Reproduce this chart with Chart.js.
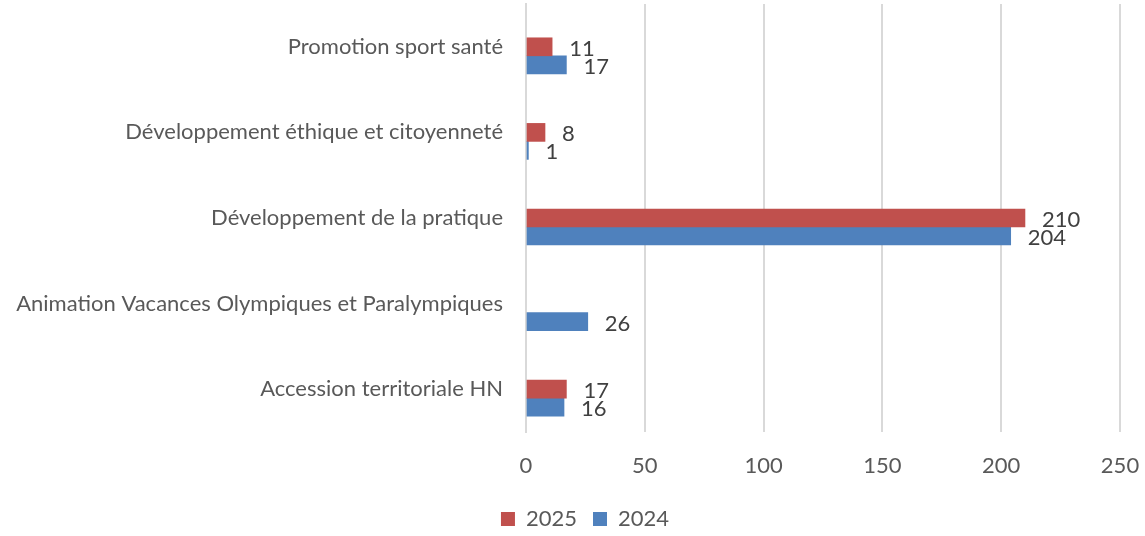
<!DOCTYPE html>
<html>
<head>
<meta charset="utf-8">
<script src="https://cdn.jsdelivr.net/npm/chart.js@4"></script>
<style>
  html, body { margin: 0; padding: 0; background: #fff; }
  #wrap { width: 1145px; height: 536px; }
</style>
</head>
<body>
<div id="wrap"><canvas id="chart" width="1145" height="536"></canvas></div>
<script>
// categories, top to bottom as shown
let categories = [
    'Promotion sport santé',
    'Développement éthique et citoyenneté',
    'Développement de la pratique',
    'Animation Vacances Olympiques et Paralympiques',
    'Accession territoriale HN',
];
let values2025 = [11, 8, 210, null, 17];
let values2024 = [17, 1, 204, 26, 16];
// empty series that still takes a slot in each group (as in the source chart)
let valuesEmpty = [null, null, null, null, null];
let xticks = [0, 50, 100, 150, 200, 250];

let textcolor = '#595959';
let gridcolor = '#d9d9d9';
let fontfamily = 'Lato, "Open Sans", sans-serif';
let fontsize = 22;

// draw value labels to the right of each bar
let valuelabels = {
    id: 'valuelabels',
    afterDatasetsDraw: function(chart) {
        let ctx = chart.ctx;
        ctx.save();
        ctx.font = fontsize + 'px ' + fontfamily;
        ctx.fillStyle = '#404040';
        ctx.textAlign = 'left';
        ctx.textBaseline = 'middle';
        chart.data.datasets.forEach(function(ds, di) {
            if (ds.nolabel) return;
            let meta = chart.getDatasetMeta(di);
            meta.data.forEach(function(bar, i) {
                let v = ds.data[i];
                if (v === null || v === undefined) return;
                ctx.fillText(String(v), bar.x + 17, bar.y + 2);
            });
        });
        ctx.restore();
    }
};

// legend sits a bit right of the canvas centre in the source
let legendshift = {
    id: 'legendshift',
    afterLayout: function(chart) {
        chart.legend.left += 25;
        chart.legend.right += 25;
    }
};

let chart = new Chart(document.getElementById('chart'), {
    type: 'bar',
    data: {
        labels: categories,
        datasets: [
            {label: '', data: valuesEmpty, backgroundColor: 'rgba(0,0,0,0)', barThickness: 18, nolabel: true},
            {label: '2025', data: values2025, backgroundColor: '#C0504D', barThickness: 18},
            {label: '2024', data: values2024, backgroundColor: '#4F81BD', barThickness: 18},
        ]
    },
    options: {
        indexAxis: 'y',
        responsive: false,
        animation: false,
        layout: {padding: {top: 4, right: 25, left: 0, bottom: -4}},
        scales: {
            x: {
                min: 0,
                max: 250,
                afterBuildTicks: function(scale) {
                    scale.ticks = xticks.map(function(v) { return {value: v}; });
                },
                afterFit: function(scale) {
                    scale.paddingLeft = 0;
                    scale.paddingRight = 0;
                    scale.height = 60;
                },
                grid: {color: gridcolor, lineWidth: 2, drawTicks: false},
                border: {display: false},
                ticks: {color: textcolor, font: {family: fontfamily, size: fontsize}, padding: 21},
            },
            y: {
                afterFit: function(scale) {
                    scale.width = 526;
                    scale.paddingTop = 0;
                    scale.paddingBottom = 0;
                },
                grid: {display: false, drawTicks: false},
                border: {display: true, color: gridcolor, width: 2},
                ticks: {color: textcolor, font: {family: fontfamily, size: fontsize}, padding: 23},
            }
        },
        plugins: {
            legend: {
                position: 'bottom',
                labels: {
                    color: textcolor,
                    font: {family: fontfamily, size: fontsize},
                    boxWidth: 14,
                    boxHeight: 14,
                    padding: 16,
                    filter: function(item) { return item.text !== ''; },
                }
            },
            tooltip: {enabled: false},
        }
    },
    plugins: [valuelabels, legendshift],
});
</script>
</body>
</html>
